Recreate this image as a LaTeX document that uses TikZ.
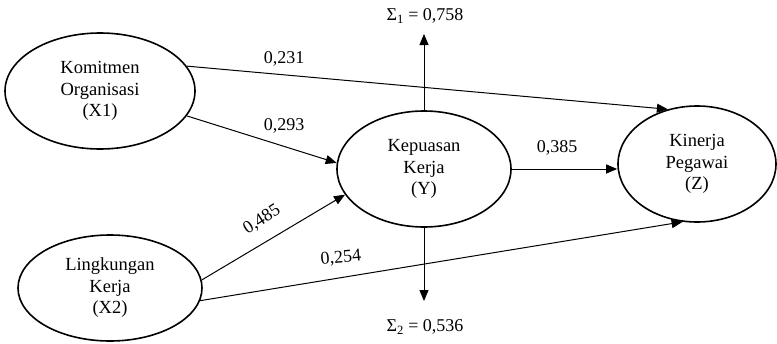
\documentclass[tikz,border=0pt]{standalone}
\usepackage{fontspec}
\setmainfont{Liberation Serif}
\usetikzlibrary{shapes.geometric,arrows.meta}
\begin{document}
\begin{tikzpicture}[x=1pt,y=-1pt,
  var/.style={ellipse,draw,line width=1.6pt,inner sep=0pt,align=center,
    font=\fontsize{18.5}{21.5}\selectfont},
  arr/.style={line width=1pt,-{Triangle[length=11pt,width=9pt]}},
  lbl/.style={font=\fontsize{18}{20}\selectfont,inner sep=0pt}]
\useasboundingbox (0,0) rectangle (777,343);
\node[var,minimum width=190pt,minimum height=116pt] (X1) at (100,91) {Komitmen\\Organisasi\\(X1)};
\node[var,minimum width=184pt,minimum height=106pt] (X2) at (110,288) {Lingkungan\\Kerja\\(X2)};
\node[var,minimum width=174pt,minimum height=116pt] (Y) at (424,169) {Kepuasan\\Kerja\\(Y)};
\node[var,minimum width=158pt,minimum height=116pt] (Z) at (697,164) {Kinerja\\Pegawai\\(Z)};
\node[lbl] (S1) at (425,16) {Σ\textsubscript{1} = 0,758};
\node[lbl] (S2) at (425,327) {Σ\textsubscript{2} = 0,536};
\coordinate (t1) at (424,34);
\coordinate (t2) at (424,301);
\draw[arr] (Y.north) -- (t1);
\draw[arr] (Y.south) -- (t2);
\draw[arr] (X1.16) -- (Z.118);
\draw[arr] (X1.-16) -- (Y.176);
\draw[arr] (X2.5) -- (Y.198);
\draw[arr] (X2.-8) -- (Z.256);
\draw[arr] (Y.east) -- (Y.east -| Z.west);
\node[lbl] (l1) at (284,59) {0,231};
\node[lbl] (l2) at (284,126) {0,293};
\node[lbl] (l3) at (557,148) {0,385};
\node[lbl,rotate=33] (l4) at (262,220) {0,485};
\node[lbl,rotate=5] (l5) at (341,258) {0,254};
\end{tikzpicture}
\end{document}
